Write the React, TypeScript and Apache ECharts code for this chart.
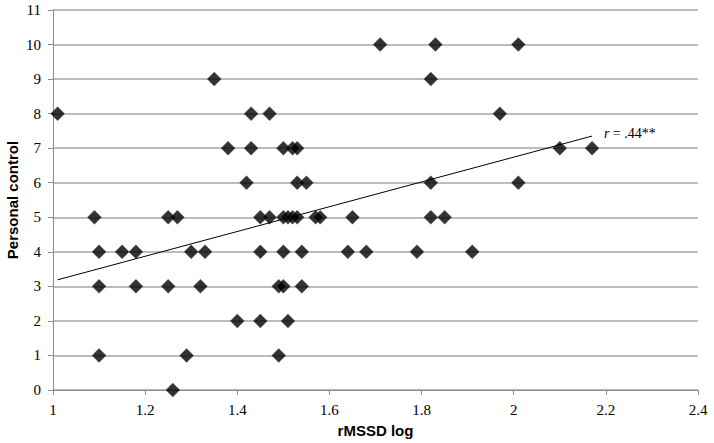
import React, { useEffect, useRef } from "react";
import * as echarts from "echarts";

const yLevels = [0, 1, 2, 3, 4, 5, 6, 7, 8, 9, 10];
const xAtLevel: number[][] = [
  [1.26],
  [1.10, 1.29, 1.49],
  [1.40, 1.45, 1.51],
  [1.10, 1.18, 1.25, 1.32, 1.49, 1.50, 1.54],
  [1.10, 1.15, 1.18, 1.30, 1.33, 1.45, 1.50, 1.54, 1.64, 1.68, 1.79, 1.91],
  [1.09, 1.25, 1.27, 1.45, 1.47, 1.50, 1.51, 1.52, 1.53, 1.57, 1.58, 1.65, 1.82, 1.85],
  [1.42, 1.53, 1.55, 1.82, 2.01],
  [1.38, 1.43, 1.50, 1.52, 1.53, 2.10, 2.17],
  [1.01, 1.43, 1.47, 1.97],
  [1.35, 1.82],
  [1.71, 1.83, 2.01],
];
const trendX = [1.01, 2.17];
const trendY = [3.19, 7.35];
const xTicks = { min: 1, max: 2.4, interval: 0.2 };
const yTicks = { min: 0, max: 11, interval: 1 };

export default function App() {
  const ref = useRef<HTMLDivElement>(null);
  useEffect(() => {
    if (!ref.current) return;
    const chart = echarts.init(ref.current, null, { renderer: "svg" });
    const points: number[][] = [];
    yLevels.forEach((y, i) => xAtLevel[i].forEach((x) => points.push([x, y])));
    const serif = "'Liberation Serif', 'Times New Roman', serif";
    const sans = "'Liberation Sans', Arial, sans-serif";
    chart.setOption({
      animation: false,
      grid: { left: 53, right: 16, top: 10, bottom: 53, outerBoundsMode: "none", containLabel: false },
      xAxis: {
        type: "value",
        min: xTicks.min,
        max: xTicks.max,
        interval: xTicks.interval,
        name: "rMSSD log",
        nameLocation: "middle",
        nameGap: 33,
        nameMoveOverlap: false,
        nameTextStyle: { fontFamily: sans, fontWeight: "bold", fontSize: 15, color: "#000" },
        axisLine: { show: true, lineStyle: { color: "#8c8c8c", width: 1 } },
        axisTick: { show: true, length: 5, lineStyle: { color: "#8c8c8c" } },
        axisLabel: {
          fontFamily: serif,
          fontSize: 15,
          color: "#000",
          margin: 12,
          formatter: (v: number) => String(Math.round(v * 10) / 10),
        },
        splitLine: { show: false },
      },
      yAxis: {
        type: "value",
        min: yTicks.min,
        max: yTicks.max,
        interval: yTicks.interval,
        name: "Personal control",
        nameLocation: "middle",
        nameGap: 33,
        nameMoveOverlap: false,
        nameTextStyle: { fontFamily: sans, fontWeight: "bold", fontSize: 15, color: "#000" },
        axisLine: { show: true, lineStyle: { color: "#8c8c8c", width: 1 } },
        axisTick: { show: true, length: 5, lineStyle: { color: "#8c8c8c" } },
        axisLabel: { fontFamily: serif, fontSize: 15, color: "#000", margin: 12 },
        splitLine: { show: true, lineStyle: { color: "#a6a6a6", width: 1.5 } },
      },
      series: [
        {
          type: "scatter",
          data: points,
          symbol: "diamond",
          symbolSize: 14,
          itemStyle: { color: "#000", borderColor: "#555", borderWidth: 0.5 },
          z: 3,
        },
        {
          type: "line",
          data: trendX.map((x, i) => [x, trendY[i]]),
          symbol: "none",
          lineStyle: { color: "#000", width: 1 },
          z: 4,
          endLabel: {
            show: true,
            offset: [4, -3],
            formatter: () => "{i|r} {n|= .44**}",
            rich: {
              i: { fontFamily: serif, fontStyle: "italic", fontSize: 14, color: "#000" },
              n: { fontFamily: serif, fontSize: 14, color: "#000" },
            },
          },
        },
      ],
    });
    return () => chart.dispose();
  }, []);
  return <div ref={ref} style={{ width: 714, height: 443, position: "absolute", left: 0, top: 0 }} />;
}
